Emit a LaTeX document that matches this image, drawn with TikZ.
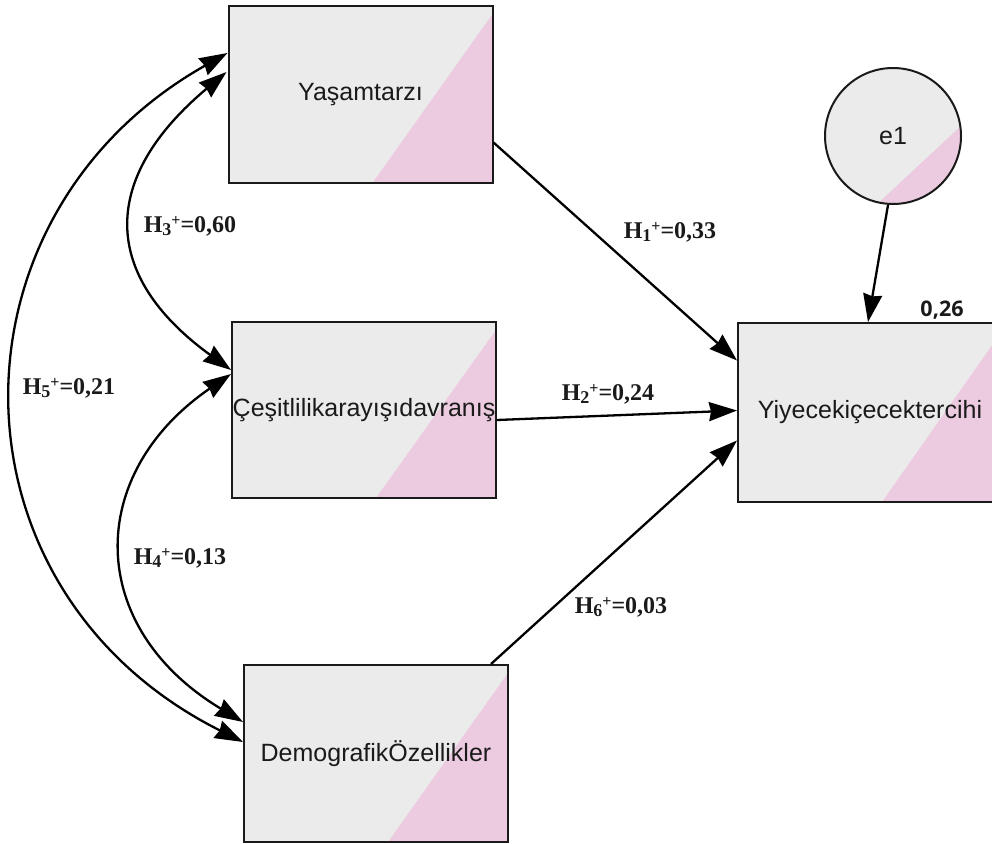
\documentclass[tikz,border=0pt]{standalone}
\usepackage{fontspec}
\setmainfont{Liberation Sans}
\newfontfamily\labelfont{Liberation Serif}
\newfontfamily\numfont{Open Sans}
\usetikzlibrary{arrows.meta,calc}
\definecolor{boxgray}{HTML}{EBEBEB}
\definecolor{boxpink}{HTML}{ECCBE0}
\definecolor{inkdark}{HTML}{1A1A1A}

% hypothesis label: H with index, a plus sign, then the coefficient
\newcommand{\hyplab}[2]{H\raisebox{-3pt}{\fontsize{18}{20}\selectfont #1}\raisebox{7pt}{\fontsize{16}{18}\selectfont +}=#2}

\tikzset{
  var/.style={draw=inkdark, line width=2pt, fill=boxgray,
    minimum width=264pt, minimum height=177pt, inner sep=0pt,
    font=\fontsize{25}{30}\selectfont, text=inkdark,
    path picture={\fill[boxpink]
      ([xshift=-120pt]path picture bounding box.south east) --
      (path picture bounding box.south east) --
      ([yshift=-8pt]path picture bounding box.north east) -- cycle;}},
  errc/.style={circle, draw=inkdark, line width=2pt, fill=boxgray,
    minimum size=136pt, inner sep=0pt,
    font=\fontsize{25}{30}\selectfont, text=inkdark,
    path picture={\fill[boxpink]
      ([shift={(258:68pt)}]path picture bounding box.center) --
      ([shift={(8:68pt)}]path picture bounding box.center) --
      ([shift={(313:200pt)}]path picture bounding box.center) -- cycle;}},
  conn/.style={line width=2.3pt, draw=black, -{Stealth[length=28pt,width=19pt,inset=2pt]}},
  covar/.style={line width=2.3pt, draw=black,
    {Stealth[length=28pt,width=19pt,inset=2pt]}-{Stealth[length=28pt,width=19pt,inset=2pt]}},
  hlab/.style={inner sep=0pt, text=inkdark,
    font=\labelfont\bfseries\fontsize{24}{28}\selectfont},
  rsq/.style={inner sep=0pt, text=inkdark,
    font=\numfont\bfseries\fontsize{21.5}{24}\selectfont}
}

\begin{document}
\begin{tikzpicture}[x=1pt,y=-1pt]
\clip (0,0) rectangle (992,843);

% observed variables
\node[var] (yas) at (360.5,94.5) {Yaşamtarzı};
\node[var, minimum height=176pt] (ces) at (364,410) {Çeşitlilikarayışıdavranış};
\node[var] (dem) at (376,753.5) {DemografikÖzellikler};
\node[var, minimum height=179pt] (yiy) at (870,412.5) {Yiyecekiçecektercihi};

% error term
\node[errc] (e1) at (893,136) {e1};

% regression paths
\draw[conn] ($(yas.east)+(0,48)$) -- ($(yiy.west)+(0,-52)$);
\draw[conn] ($(ces.east)+(0,10)$) -- ($(yiy.west)+(0,-2)$);
\draw[conn] ($(dem.north east)+(-18,0)$) -- ($(yiy.west)+(0,28)$);
\draw[conn] ($(e1.south)+(-5,0)$) -- ($(yiy.north)+(-2,0)$);

% covariances
\draw[covar] ($(yas.west)+(0,-41.5)$) .. controls (-60,215) and (-60,590) .. ($(dem.west)+(0,-11.5)$);
\draw[covar] ($(yas.west)+(-1,-22.5)$) .. controls (100,178) and (100,275) .. ($(ces.west)+(0,-40)$);
\draw[covar] ($(ces.west)+(0,-36)$) .. controls (85,474) and (85,627) .. ($(dem.west)+(0,-31.5)$);

% path coefficients
\node[hlab] (h1) at (670,232) {\hyplab{1}{0,33}};
\node[hlab] (h2) at (608,394) {\hyplab{2}{0,24}};
\node[hlab] (h3) at (190,226) {\hyplab{3}{0,60}};
\node[hlab] (h4) at (180,558) {\hyplab{4}{0,13}};
\node[hlab] (h5) at (69,388) {\hyplab{5}{0,21}};
\node[hlab] (h6) at (621,607) {\hyplab{6}{0,03}};
\node[rsq] (r2) at (942,310) {0,26};
\end{tikzpicture}
\end{document}
